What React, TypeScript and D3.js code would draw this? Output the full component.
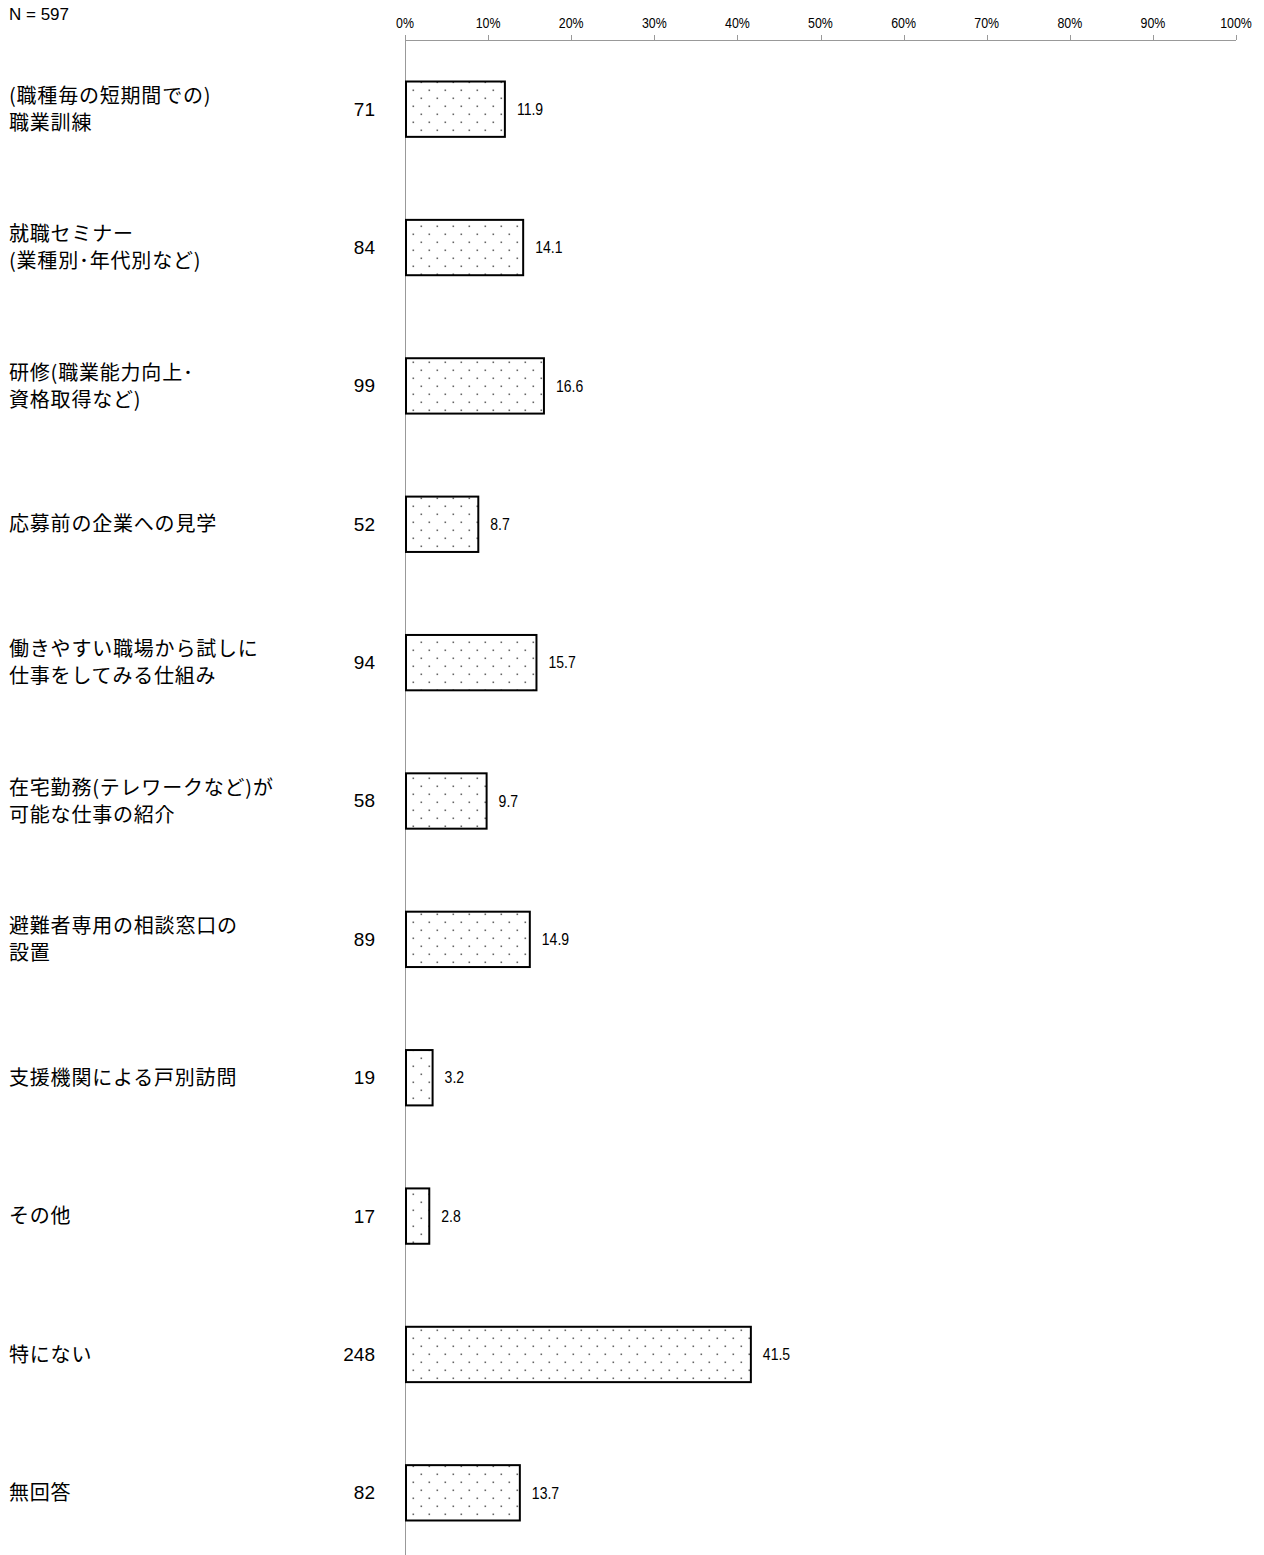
import React from "react";
import * as d3 from "d3";

const categories: string[][] = [
  ["(職種毎の短期間での)", "職業訓練"],
  ["就職セミナー", "(業種別･年代別など)"],
  ["研修(職業能力向上･", "資格取得など)"],
  ["応募前の企業への見学"],
  ["働きやすい職場から試しに", "仕事をしてみる仕組み"],
  ["在宅勤務(テレワークなど)が", "可能な仕事の紹介"],
  ["避難者専用の相談窓口の", "設置"],
  ["支援機関による戸別訪問"],
  ["その他"],
  ["特にない"],
  ["無回答"],
];
const counts: number[] = [71, 84, 99, 52, 94, 58, 89, 19, 17, 248, 82];
const percents: number[] = [11.9, 14.1, 16.6, 8.7, 15.7, 9.7, 14.9, 3.2, 2.8, 41.5, 13.7];
const tickValues: number[] = [0, 10, 20, 30, 40, 50, 60, 70, 80, 90, 100];
const totalN = 597;

export default function App() {
  const W = 1264;
  const H = 1555;
  const x = d3.scaleLinear().domain([0, 100]).range([405, 1236]);
  const y = d3
    .scaleBand<number>()
    .domain(categories.map((_, i) => i))
    .range([40, 1562])
    .paddingInner(0.6)
    .paddingOuter(0.3);
  const font = "'Noto Sans CJK JP', 'Liberation Sans', sans-serif";
  const numFont = "'Liberation Sans', Arial, sans-serif";
  const cond = (cx: number, s: number) => `translate(${cx},0) scale(${s},1) translate(${-cx},0)`;
  return (
    <svg width={W} height={H} style={{ position: "absolute", left: 0, top: 0, background: "#fff" }}>
      <defs>
        <pattern id="dots" width={16} height={16} patternUnits="userSpaceOnUse" x={405} y={82}>
          <rect width={16} height={16} fill="#fff" />
          <rect x={7.5} y={7.5} width={1.6} height={1.6} fill="#666" />
          <rect x={15.5} y={15.5} width={1.6} height={1.6} fill="#666" />
          <rect x={-0.5} y={15.5} width={1.6} height={1.6} fill="#666" />
          <rect x={15.5} y={-0.5} width={1.6} height={1.6} fill="#666" />
          <rect x={-0.5} y={-0.5} width={1.6} height={1.6} fill="#666" />
        </pattern>
      </defs>
      <text x={9} y={20} fontFamily={numFont} fontSize={17} fill="#000">
        N = {totalN}
      </text>
      {/* axis */}
      <line x1={x(0)} x2={x(100)} y1={40.5} y2={40.5} stroke="#999" strokeWidth={1} />
      <line x1={x(0) + 0.5} x2={x(0) + 0.5} y1={35} y2={1555} stroke="#999" strokeWidth={1} />
      {tickValues.map((t) => (
        <g key={t}>
          <line x1={Math.round(x(t)) + 0.5} x2={Math.round(x(t)) + 0.5} y1={35} y2={40} stroke="#999" />
          <text
            x={x(t)}
            y={28}
            textAnchor="middle"
            fontFamily={numFont}
            fontSize={15.5}
            fill="#000"
            transform={cond(x(t), 0.8)}
          >
            {t}%
          </text>
        </g>
      ))}
      {categories.map((lines, i) => {
        const y0 = y(i)!;
        const bw = y.bandwidth();
        const cy = y0 + bw / 2;
        const lh = 27;
        const startY = cy - ((lines.length - 1) * lh) / 2;
        const vx = x(percents[i]) + 13;
        return (
          <g key={i}>
            {lines.map((l, j) => (
              <text
                key={j}
                x={9}
                y={startY + j * lh}
                dy="0.36em"
                fontFamily={font}
                fontSize={20}
                letterSpacing={0.8}
                fill="#000"
              >
                {l}
              </text>
            ))}
            <text x={375} y={cy} dy="0.34em" textAnchor="end" fontFamily={numFont} fontSize={19} fill="#000">
              {counts[i]}
            </text>
            <rect
              x={x(0) + 1}
              y={y0}
              width={x(percents[i]) - x(0)}
              height={bw}
              fill="url(#dots)"
              stroke="#000"
              strokeWidth={2}
            />
            <text
              x={vx}
              y={cy}
              dy="0.35em"
              fontFamily={numFont}
              fontSize={16.5}
              fill="#000"
              transform={cond(vx, 0.85)}
            >
              {percents[i].toFixed(1)}
            </text>
          </g>
        );
      })}
    </svg>
  );
}
